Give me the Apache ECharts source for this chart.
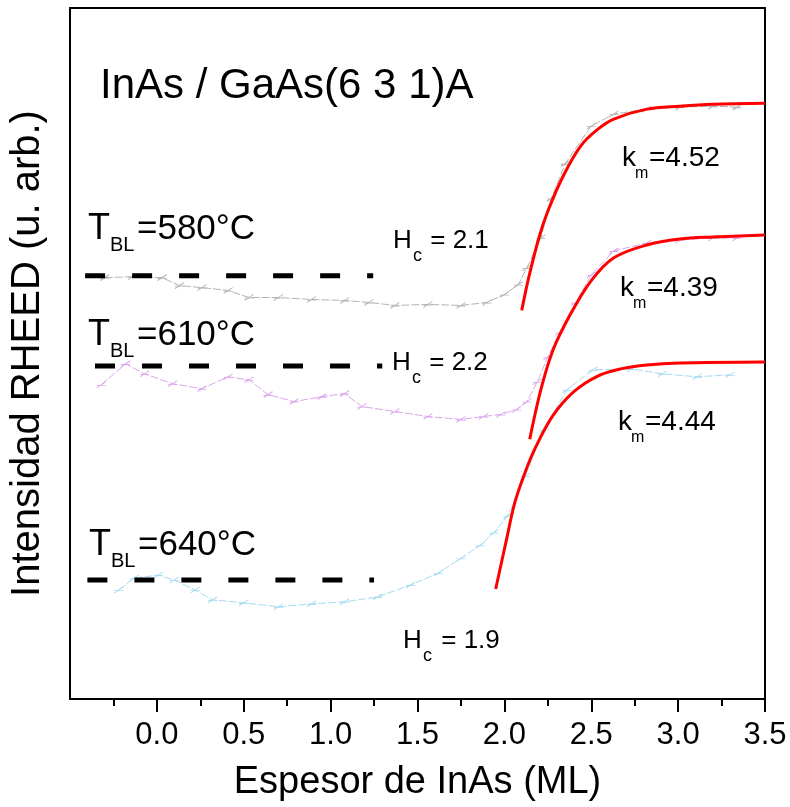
<!DOCTYPE html>
<html>
<head>
<meta charset="utf-8">
<script src="https://cdn.jsdelivr.net/npm/echarts@6/dist/echarts.min.js"></script>
<style>
  html, body { margin: 0; padding: 0; background: #fff; }
  #chart { width: 790px; height: 807px; }
</style>
</head>
<body>
<div id="chart"></div>
<script>
// x ticks and ranges
var xTicks = [0.0, 0.5, 1.0, 1.5, 2.0, 2.5, 3.0, 3.5];

// RHEED traces (x in ML, y in arbitrary units)
var trace580X = [-0.30, -0.14, 0.03, 0.13, 0.26, 0.41, 0.53, 0.70, 0.89, 1.08, 1.22, 1.37, 1.56, 1.75, 1.90, 2.00, 2.08, 2.13, 2.21, 2.27, 2.35, 2.50, 2.63, 2.82, 3.01, 3.20, 3.34];
var trace580Y = [425, 426, 425, 417, 415, 412, 405, 405, 403, 402, 400, 397, 398, 397, 400, 408, 418, 435, 465, 505, 540, 578, 590, 595, 597, 598, 597];

var trace610X = [-0.32, -0.18, -0.07, 0.09, 0.26, 0.41, 0.53, 0.64, 0.79, 0.95, 1.08, 1.18, 1.37, 1.56, 1.75, 1.88, 1.98, 2.07, 2.13, 2.19, 2.25, 2.32, 2.41, 2.50, 2.63, 2.82, 3.01, 3.20, 3.34];
var trace610Y = [317, 338, 328, 318, 313, 325, 322, 307, 300, 305, 308, 295, 290, 285, 282, 285, 287, 292, 300, 320, 345, 370, 400, 428, 452, 460, 463, 465, 465];

var trace640X = [-0.22, -0.13, 0.01, 0.10, 0.22, 0.32, 0.50, 0.70, 0.89, 1.08, 1.27, 1.46, 1.62, 1.75, 1.86, 1.94, 2.02, 2.12, 2.23, 2.36, 2.51, 2.73, 2.91, 3.11, 3.30];
var trace640Y = [110, 122, 125, 120, 110, 100, 97, 93, 96, 98, 103, 115, 127, 142, 155, 168, 185, 225, 272, 312, 332, 333, 328, 325, 327];

// exponential fits (red)
var fit580X = [2.10, 2.14, 2.20, 2.25, 2.34, 2.44, 2.54, 2.63, 2.82, 3.01, 3.20, 3.50];
var fit580Y = [392, 425, 466, 492, 528, 558, 575, 585, 595, 598, 600, 601];
var fit610X = [2.146, 2.21, 2.28, 2.38, 2.50, 2.63, 2.82, 3.01, 3.20, 3.50];
var fit610Y = [262, 312, 352, 388, 422, 445, 458, 464, 466, 468];
var fit640X = [1.95, 2.01, 2.06, 2.12, 2.18, 2.28, 2.40, 2.54, 2.67, 2.82, 3.01, 3.50];
var fit640Y = [111, 159, 198, 229, 254, 286, 310, 326, 333, 337, 339, 340];

// initial intensity levels (black dashed)
var levelX = [[-0.413, 1.245], [-0.356, 1.297], [-0.40, 1.25]];
var levelY = [427, 336, 120];

function zip(xs, ys) {
  return xs.map(function (x, i) { return [x, ys[i]]; });
}

var FONT = "'Liberation Sans', Arial, sans-serif";

function txt(x, y, s, size) {
  return {
    type: 'text', x: x, y: y,
    style: { text: s, font: size + 'px ' + FONT, fill: '#000', verticalAlign: 'middle', align: 'left' }
  };
}

var myChart = echarts.init(document.getElementById('chart'));

var series = [];
var traceColors = ['#b4b4b4', '#dca6ec', '#a6dcf0'];
[[trace580X, trace580Y], [trace610X, trace610Y], [trace640X, trace640Y]].forEach(function (t, i) {
  series.push({
    type: 'line', data: zip(t[0], t[1]), silent: true,
    symbol: 'path://M0,10L10,0M0,6L10,6', symbolSize: [9, 6],
    itemStyle: { color: 'transparent', borderColor: traceColors[i], borderWidth: 1 },
    lineStyle: { color: traceColors[i], width: 1, type: [8, 2] }, z: 2
  });
});
levelX.forEach(function (xs, i) {
  series.push({
    type: 'line', data: [[xs[0], levelY[i]], [xs[1], levelY[i]]], showSymbol: false, silent: true,
    lineStyle: { color: '#000', width: 5, type: [20, 27], cap: 'butt' }, z: 3
  });
});
[[fit580X, fit580Y], [fit610X, fit610Y], [fit640X, fit640Y]].forEach(function (f) {
  series.push({
    type: 'line', data: zip(f[0], f[1]), showSymbol: false, silent: true, smooth: 0.35,
    lineStyle: { color: '#ff0000', width: 3 }, z: 4
  });
});

var graphics = [
  txt(100, 86, 'InAs / GaAs(6 3 1)A', 42),

  txt(88, 229, 'T', 36), txt(110, 245, 'BL', 20), txt(137, 229, '=580°C', 35),
  txt(88, 335, 'T', 36), txt(110, 351, 'BL', 20), txt(137, 335, '=610°C', 35),
  txt(89, 545, 'T', 36), txt(111, 561, 'BL', 20), txt(138, 545, '=640°C', 35),

  txt(393, 241, 'H', 26), txt(413, 256, 'c', 18), txt(423, 241, ' = 2.1', 26),
  txt(392, 363, 'H', 26), txt(412, 378, 'c', 18), txt(422, 363, ' = 2.2', 26),
  txt(403, 641, 'H', 26), txt(423, 656, 'c', 18), txt(434, 641, ' = 1.9', 26),

  txt(622, 158, 'k', 28), txt(635, 174, 'm', 16), txt(649, 158, '=4.52', 28),
  txt(620, 288, 'k', 28), txt(633, 304, 'm', 16), txt(647, 288, '=4.39', 28),
  txt(618, 422, 'k', 28), txt(631, 438, 'm', 16), txt(645, 422, '=4.44', 28)
];

var option = {
  backgroundColor: '#fff',
  animation: false,
  grid: { left: 67, right: 25, top: 8, bottom: 102, containLabel: false },
  xAxis: [{
    type: 'value', min: -0.5, max: 3.5, interval: 0.5,
    name: 'Espesor de InAs (ML)', nameLocation: 'middle', nameGap: 65,
    nameTextStyle: { fontFamily: FONT, fontSize: 38, color: '#000' },
    axisLine: { onZero: false, lineStyle: { color: '#000', width: 2 } },
    axisTick: { show: true, inside: false, length: 13, lineStyle: { color: '#000', width: 2 },
      customValues: xTicks },
    minorTick: { show: true, splitNumber: 2, length: 7, lineStyle: { color: '#000', width: 2 } },
    axisLabel: {
      fontFamily: FONT, fontSize: 31, color: '#000', margin: 21,
      customValues: xTicks,
      formatter: function (v) { return v < 0 ? '' : v.toFixed(1); }
    },
    splitLine: { show: false }
  }, {
    type: 'value', position: 'top', min: -0.5, max: 3.5, interval: 0.5,
    axisLine: { onZero: false, lineStyle: { color: '#000', width: 2 } },
    axisTick: { show: false }, axisLabel: { show: false }, splitLine: { show: false }
  }],
  yAxis: [{
    type: 'value', min: 0, max: 697,
    name: 'Intensidad RHEED (u. arb.)', nameLocation: 'middle', nameGap: 22,
    nameTextStyle: { fontFamily: FONT, fontSize: 40, color: '#000' },
    axisLine: { show: true, onZero: false, lineStyle: { color: '#000', width: 2 } },
    axisTick: { show: false }, axisLabel: { show: false }, splitLine: { show: false }
  }, {
    type: 'value', position: 'right', min: 0, max: 697,
    axisLine: { show: true, onZero: false, lineStyle: { color: '#000', width: 2 } },
    axisTick: { show: false }, axisLabel: { show: false }, splitLine: { show: false }
  }],
  graphic: graphics,
  series: series
};

myChart.setOption(option);
</script>
</body>
</html>
